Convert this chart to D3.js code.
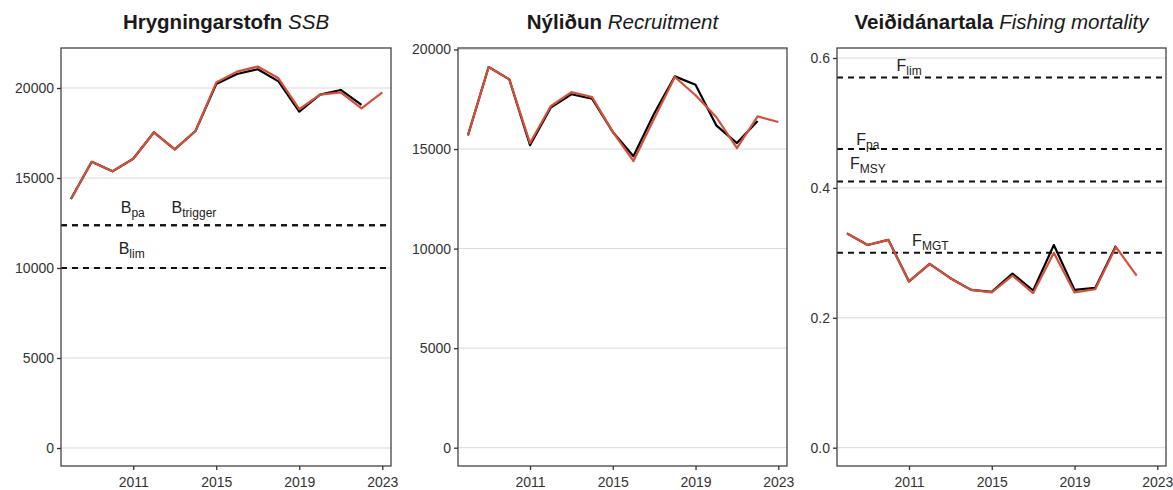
<!DOCTYPE html>
<html>
<head>
<meta charset="utf-8">
<script src="https://cdn.jsdelivr.net/npm/d3@7"></script>
<style>
  body { margin: 0; background: #fff; }
  svg { font-family: "Liberation Sans", Arial, sans-serif; }
</style>
</head>
<body>
<script>
// data
const years = d3.range(2008, 2024)

// black = previous assessment, red = current assessment
const ssbOld = [13830, 15900, 15370, 16070, 17540, 16590, 17610, 20220, 20780, 21040, 20370, 18690, 19630, 19890, 19060]
const ssbNew = [13830, 15900, 15370, 16070, 17540, 16590, 17610, 20300, 20910, 21190, 20540, 18820, 19630, 19760, 18870, 19760]

const recOld = [15690, 19120, 18500, 15190, 17080, 17750, 17530, 15860, 14640, 16780, 18650, 18230, 16190, 15300, 16410]
const recNew = [15690, 19120, 18500, 15300, 17150, 17860, 17610, 15860, 14400, 16530, 18620, 17700, 16610, 15050, 16640, 16360]

const fOld = [0.330, 0.312, 0.320, 0.256, 0.283, 0.261, 0.243, 0.240, 0.268, 0.242, 0.312, 0.243, 0.246, 0.311]
const fNew = [0.330, 0.312, 0.320, 0.256, 0.283, 0.261, 0.243, 0.239, 0.265, 0.238, 0.300, 0.239, 0.244, 0.309, 0.265]

const xTicks = [2011, 2015, 2019, 2023]
const countTicks = [0, 5000, 10000, 15000, 20000]
const fTicks = [0, 0.2, 0.4, 0.6]

const ssbRefs = [
  { value: 12370, label: "B", sub: "pa", year: 2010.4, dy: -12 },
  { value: 12370, label: "B", sub: "trigger", year: 2012.85, dy: -12 },
  { value: 10000, label: "B", sub: "lim", year: 2010.3, dy: -14 },
]
const fRefs = [
  { value: 0.57, label: "F", sub: "lim", year: 2010.4, dy: -6 },
  { value: 0.46, label: "F", sub: "pa", year: 2008.45, dy: -4 },
  { value: 0.41, label: "F", sub: "MSY", year: 2008.15, dy: -12 },
  { value: 0.30, label: "F", sub: "MGT", year: 2011.15, dy: -7 },
]

const panels = [
  { title: "Hrygningarstofn", italic: "SSB", left: 61, right: 391, yDomain: [-1000, 22222],
    ticks: countTicks, fmt: d3.format("d"), old: ssbOld, cur: ssbNew, refs: ssbRefs },
  { title: "Nýliðun", italic: "Recruitment", left: 458, right: 787, yDomain: [-919, 20075],
    ticks: countTicks, fmt: d3.format("d"), old: recOld, cur: recNew, refs: [] },
  { title: "Veiðidánartala", italic: "Fishing mortality", left: 837, right: 1166, yDomain: [-0.0282, 0.6154],
    ticks: fTicks, fmt: d3.format(".1f"), old: fOld, cur: fNew, refs: fRefs },
]

const dimensions = {
  width: 1173,
  height: 490,
  plotTop: 48,
  plotBottom: 466,
}
const red = "#d4503a"

const svg = d3.select("body")
  .append("svg")
    .attr("width", dimensions.width)
    .attr("height", dimensions.height)

panels.forEach(p => {
  const xScale = d3.scaleLinear()
    .domain([2007.52, 2023.42])
    .range([p.left, p.right])

  const yScale = d3.scaleLinear()
    .domain(p.yDomain)
    .range([dimensions.plotBottom, dimensions.plotTop])

  const g = svg.append("g")

  // grid
  g.selectAll(".grid")
    .data(p.ticks)
    .join("line")
      .attr("x1", p.left)
      .attr("x2", p.right)
      .attr("y1", d => yScale(d))
      .attr("y2", d => yScale(d))
      .attr("stroke", "#d9d9d9")
      .attr("stroke-width", 1)

  // reference lines
  g.selectAll(".ref")
    .data(p.refs)
    .join("line")
      .attr("x1", p.left)
      .attr("x2", p.right)
      .attr("y1", d => yScale(d.value))
      .attr("y2", d => yScale(d.value))
      .attr("stroke", "#111")
      .attr("stroke-width", 2)
      .attr("stroke-dasharray", "6,5")

  const refLabels = g.selectAll(".reflabel")
    .data(p.refs)
    .join("text")
      .attr("x", d => xScale(d.year))
      .attr("y", d => yScale(d.value) + d.dy)
      .attr("fill", "#222")
      .style("font-size", "16px")
  refLabels.append("tspan").text(d => d.label)
  refLabels.append("tspan")
      .attr("dy", 4)
      .style("font-size", "12px")
      .text(d => d.sub)

  // lines
  const lineGen = d3.line()
    .x((d, i) => xScale(years[i]))
    .y(d => yScale(d))

  g.append("path")
    .attr("d", lineGen(p.old))
    .attr("fill", "none")
    .attr("stroke", "#000")
    .attr("stroke-width", 2.2)
    .attr("stroke-linejoin", "round")

  g.append("path")
    .attr("d", lineGen(p.cur))
    .attr("fill", "none")
    .attr("stroke", red)
    .attr("stroke-width", 2.2)
    .attr("stroke-linejoin", "round")

  // border
  g.append("rect")
    .attr("x", p.left)
    .attr("y", dimensions.plotTop)
    .attr("width", p.right - p.left)
    .attr("height", dimensions.plotBottom - dimensions.plotTop)
    .attr("fill", "none")
    .attr("stroke", "#444")
    .attr("stroke-width", 1.3)

  // axes
  const xAxis = g.append("g")
    .attr("transform", `translate(0, ${dimensions.plotBottom})`)
    .call(d3.axisBottom(xScale).tickValues(xTicks).tickFormat(d3.format("d")).tickSize(4).tickSizeOuter(0))
  xAxis.select(".domain").remove()

  const yAxis = g.append("g")
    .attr("transform", `translate(${p.left}, 0)`)
    .call(d3.axisLeft(yScale).tickValues(p.ticks).tickFormat(p.fmt).tickSize(4).tickSizeOuter(0))
  yAxis.select(".domain").remove()

  g.selectAll(".tick line").attr("stroke", "#333").attr("stroke-width", 1.3)
  g.selectAll(".tick text")
    .attr("fill", "#333")
    .style("font-size", "14px")
    .style("font-family", "Liberation Sans, Arial, sans-serif")
  xAxis.selectAll(".tick text").attr("y", 11)

  // title
  const title = svg.append("text")
    .attr("x", (p.left + p.right) / 2)
    .attr("y", 29)
    .attr("text-anchor", "middle")
    .attr("fill", "#1a1a1a")
    .style("font-size", "20.5px")
  title.append("tspan").style("font-weight", "bold").text(p.title + " ")
  title.append("tspan").style("font-style", "italic").text(p.italic)
})
</script>
</body>
</html>
